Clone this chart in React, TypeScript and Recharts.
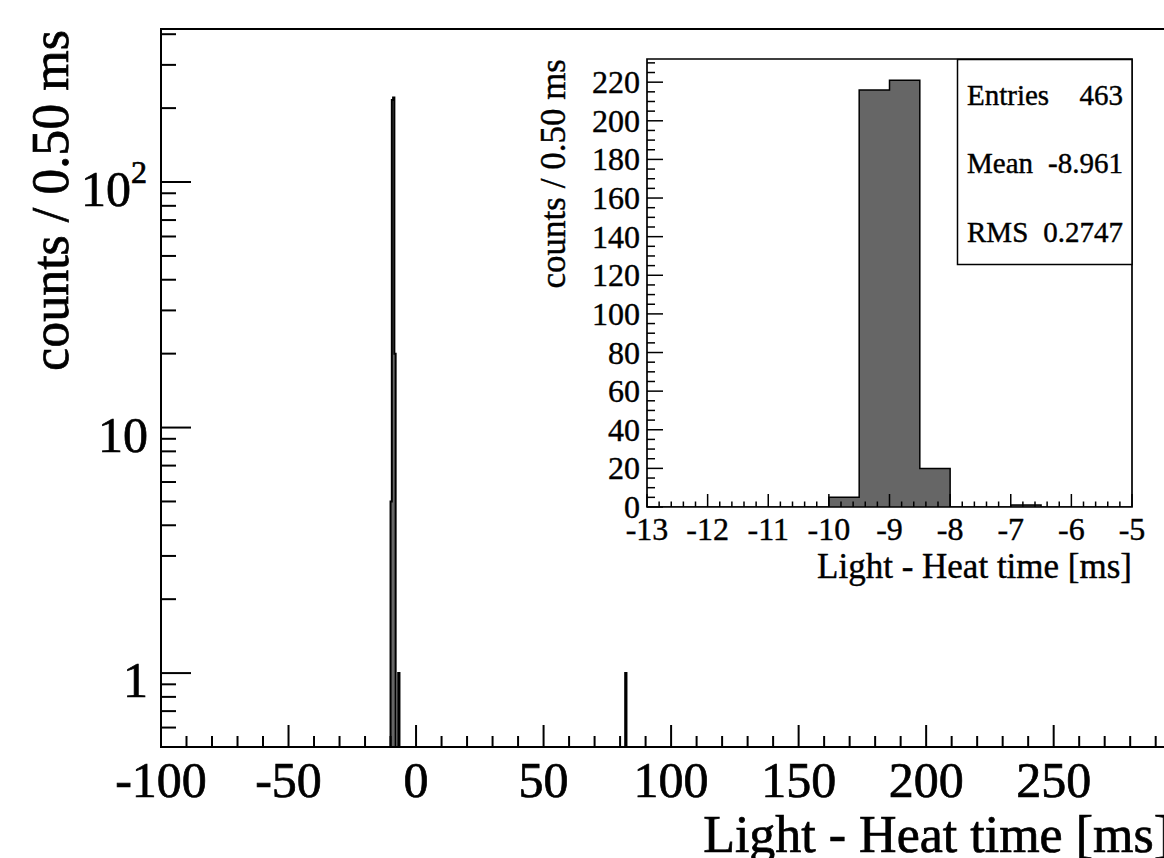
import React from "react";
import {
  ComposedChart,
  Area,
  XAxis,
  YAxis,
  ReferenceArea,
} from "recharts";

const FONT = "'Liberation Serif', 'Times New Roman', serif";

// histogram contents: low edge of each filled 0.50 ms bin and its count
const BIN_WIDTH = 0.5;
const binLows = [-10, -9.5, -9, -8.5, -7, 82];
const binCounts = [5, 216, 221, 20, 1, 1];

// main (log) panel
const mainXRange = [-100, 296];
const mainYRange = [0.5, 420];
const mainXMajor = [-100, -50, 0, 50, 100, 150, 200, 250];
const mainYMajor = [1, 10, 100];
const mainYLabels: Record<number, string> = { 1: "1", 10: "10", 100: "10^2" };

// inset (linear) panel
const insetXRange = [-13, -5];
const insetYRange = [0, 232];
const insetXMajor = [-13, -12, -11, -10, -9, -8, -7, -6, -5];
const insetYMajor = [0, 20, 40, 60, 80, 100, 120, 140, 160, 180, 200, 220];

const stats = [
  { name: "Entries", value: "463" },
  { name: "Mean", value: "-8.961" },
  { name: "RMS", value: "0.2747" },
];

const buildHist = (lo: number, hi: number, floor: number) => {
  const n = Math.round((hi - lo) / BIN_WIDTH);
  const rows = [];
  for (let i = 0; i <= n; i++) {
    const x = lo + i * BIN_WIDTH;
    const idx = binLows.findIndex((b) => Math.abs(b - x) < 1e-6);
    const c = i < n && idx >= 0 ? binCounts[idx] : 0;
    rows.push({ x, count: Math.max(c, floor) });
  }
  return rows;
};

const mainData = buildHist(mainXRange[0], mainXRange[1], mainYRange[0]);
const insetData = buildHist(insetXRange[0], insetXRange[1], 0);

// minor ticks
const mainXTicks: number[] = [];
for (let v = mainXRange[0]; v <= mainXRange[1]; v += 10) mainXTicks.push(v);
const mainYTicks: number[] = [];
[0.1, 1, 10, 100].forEach((d) => {
  for (let k = 1; k <= 9; k++) {
    const v = Math.round(k * d * 10) / 10;
    if (v >= mainYRange[0] && v <= mainYRange[1] && !(d === 0.1 && k < 6)) mainYTicks.push(v);
  }
});
const insetXTicks: number[] = [];
for (let i = 0; i <= 40; i++) insetXTicks.push(Math.round((insetXRange[0] + i * 0.2) * 10) / 10);
const insetYTicks: number[] = [];
for (let v = 0; v <= 230; v += 5) insetYTicks.push(v);

const bigText = { fontFamily: FONT, fill: "#000", stroke: "#000", strokeWidth: 0.7 };
const smallText = { fontFamily: FONT, fill: "#000", stroke: "#000", strokeWidth: 0.4 };

const MainXTick = (props: any) => {
  const { x, y, payload } = props;
  const v = payload.value;
  const major = mainXMajor.includes(v);
  return (
    <g>
      <line x1={x} x2={x} y1={y} y2={y - (major ? 22 : 11)} stroke="#000" strokeWidth={2} />
      {major && (
        <text x={x} y={y + 50} textAnchor="middle" fontSize={50} {...bigText}>
          {v}
        </text>
      )}
    </g>
  );
};

const MainYTick = (props: any) => {
  const { x, y, payload } = props;
  const v = payload.value;
  const major = mainYMajor.includes(v);
  const lab = mainYLabels[v];
  let text: React.ReactNode = null;
  if (major && lab) {
    if (lab.includes("^")) {
      const [base, exp] = lab.split("^");
      text = (
        <text x={x - 14} y={y + 24} textAnchor="end" fontSize={50} {...bigText}>
          {base}
          <tspan fontSize={32} dy={-23}>{exp}</tspan>
        </text>
      );
    } else {
      text = (
        <text x={x - 13} y={y + 24} textAnchor="end" fontSize={50} {...bigText}>
          {lab}
        </text>
      );
    }
  }
  return (
    <g>
      <line x1={x} x2={x + (major ? 30 : 15)} y1={y} y2={y} stroke="#000" strokeWidth={2} />
      {text}
    </g>
  );
};

const InsetXTick = (props: any) => {
  const { x, y, payload } = props;
  const v = payload.value;
  const major = insetXMajor.includes(v);
  return (
    <g>
      <line x1={x} x2={x} y1={y} y2={y - (major ? 13 : 5.5)} stroke="#000" strokeWidth={1.5} />
      {major && (
        <text x={x} y={y + 33} textAnchor="middle" fontSize={32} {...smallText}>
          {v}
        </text>
      )}
    </g>
  );
};

const InsetYTick = (props: any) => {
  const { x, y, payload } = props;
  const v = payload.value;
  const major = insetYMajor.includes(v);
  return (
    <g>
      <line x1={x} x2={x + (major ? 16 : 8)} y1={y} y2={y} stroke="#000" strokeWidth={1.5} />
      {major && (
        <text x={x - 7} y={y + 11} textAnchor="end" fontSize={32} {...smallText}>
          {v}
        </text>
      )}
    </g>
  );
};

const App = () => {
  return (
    <div
      style={{
        position: "fixed",
        left: 0,
        top: 0,
        width: 1164,
        height: 858,
        overflow: "hidden",
        background: "#fff",
      }}
    >
      {/* main panel, log y */}
      <div style={{ position: "absolute", left: 0, top: 0 }}>
        <ComposedChart
          width={1200}
          height={858}
          data={mainData}
          margin={{ top: 29, right: 29, bottom: 110, left: 160 }}
        >
          <XAxis
            dataKey="x"
            type="number"
            domain={mainXRange}
            allowDataOverflow
            ticks={mainXTicks}
            interval={0}
            height={1}
            tickSize={0}
            tickMargin={0}
            tickLine={false}
            axisLine={false}
            tick={<MainXTick />}
            label={{
              content: (p: any) => {
                const vb = p.viewBox;
                return (
                  <text
                    x={vb.x + vb.width}
                    y={vb.y + 105}
                    textAnchor="end"
                    fontSize={52}
                    {...bigText}
                  >
                    Light - Heat time [ms]
                  </text>
                );
              },
            }}
          />
          <YAxis
            type="number"
            scale="log"
            domain={mainYRange}
            allowDataOverflow
            ticks={mainYTicks}
            interval={0}
            width={1}
            tickSize={0}
            tickMargin={0}
            tickLine={false}
            axisLine={false}
            tick={<MainYTick />}
            label={{
              content: (p: any) => {
                const vb = p.viewBox;
                const lx = 68;
                const ly = vb.y + 1;
                return (
                  <text
                    x={lx}
                    y={ly}
                    transform={`rotate(-90, ${lx}, ${ly})`}
                    textAnchor="end"
                    fontSize={52}
                    {...bigText}
                  >
                    counts / 0.50 ms
                  </text>
                );
              },
            }}
          />
          <Area
            type="stepAfter"
            dataKey="count"
            baseValue={mainYRange[0]}
            stroke="#000"
            strokeWidth={2}
            fill="#666666"
            fillOpacity={1}
            dot={false}
            activeDot={false}
            isAnimationActive={false}
          />
          <ReferenceArea
            x1={mainXRange[0]}
            x2={mainXRange[1]}
            y1={mainYRange[0]}
            y2={mainYRange[1]}
            fill="none"
            stroke="#000"
            strokeWidth={2}
            ifOverflow="visible"
          />
        </ComposedChart>
      </div>

      {/* inset panel, linear y */}
      <div style={{ position: "absolute", left: 0, top: 0 }}>
        <ComposedChart
          width={1164}
          height={858}
          data={insetData}
          margin={{ top: 59, right: 32, bottom: 350, left: 646 }}
        >
          <ReferenceArea
            x1={insetXRange[0]}
            x2={insetXRange[1]}
            y1={insetYRange[0]}
            y2={insetYRange[1]}
            fill="#fff"
            fillOpacity={1}
            stroke="none"
            ifOverflow="visible"
          />
          <XAxis
            dataKey="x"
            type="number"
            domain={insetXRange}
            allowDataOverflow
            ticks={insetXTicks}
            interval={0}
            height={1}
            tickSize={0}
            tickMargin={0}
            tickLine={false}
            axisLine={false}
            tick={<InsetXTick />}
            label={{
              content: (p: any) => {
                const vb = p.viewBox;
                return (
                  <text
                    x={vb.x + vb.width}
                    y={vb.y + 71}
                    textAnchor="end"
                    fontSize={35}
                    {...smallText}
                  >
                    Light - Heat time [ms]
                  </text>
                );
              },
            }}
          />
          <YAxis
            type="number"
            domain={insetYRange}
            allowDataOverflow
            ticks={insetYTicks}
            interval={0}
            width={1}
            tickSize={0}
            tickMargin={0}
            tickLine={false}
            axisLine={false}
            tick={<InsetYTick />}
            label={{
              content: (p: any) => {
                const vb = p.viewBox;
                const lx = 565;
                const ly = vb.y;
                return (
                  <text
                    x={lx}
                    y={ly}
                    transform={`rotate(-90, ${lx}, ${ly})`}
                    textAnchor="end"
                    fontSize={35}
                    {...smallText}
                  >
                    counts / 0.50 ms
                  </text>
                );
              },
            }}
          />
          <Area
            type="stepAfter"
            dataKey="count"
            baseValue={0}
            stroke="#000"
            strokeWidth={1.5}
            fill="#666666"
            fillOpacity={1}
            dot={false}
            activeDot={false}
            isAnimationActive={false}
          />
          <ReferenceArea
            x1={insetXRange[0]}
            x2={insetXRange[1]}
            y1={insetYRange[0]}
            y2={insetYRange[1]}
            fill="none"
            stroke="#000"
            strokeWidth={1.7}
            ifOverflow="visible"
          />
        </ComposedChart>
      </div>

      {/* statistics box */}
      <svg
        width={1164}
        height={858}
        style={{ position: "absolute", left: 0, top: 0, pointerEvents: "none" }}
      >
        <rect x={957.5} y={59.5} width={174.5} height={205} fill="#fff" stroke="#000" strokeWidth={1.5} />
        {stats.map((s, i) => (
          <g key={s.name} fontSize={29} {...smallText}>
            <text x={967} y={105 + i * 68.3}>{s.name}</text>
            <text x={1123} y={105 + i * 68.3} textAnchor="end">
              {s.value}
            </text>
          </g>
        ))}
      </svg>
    </div>
  );
};

export default App;
